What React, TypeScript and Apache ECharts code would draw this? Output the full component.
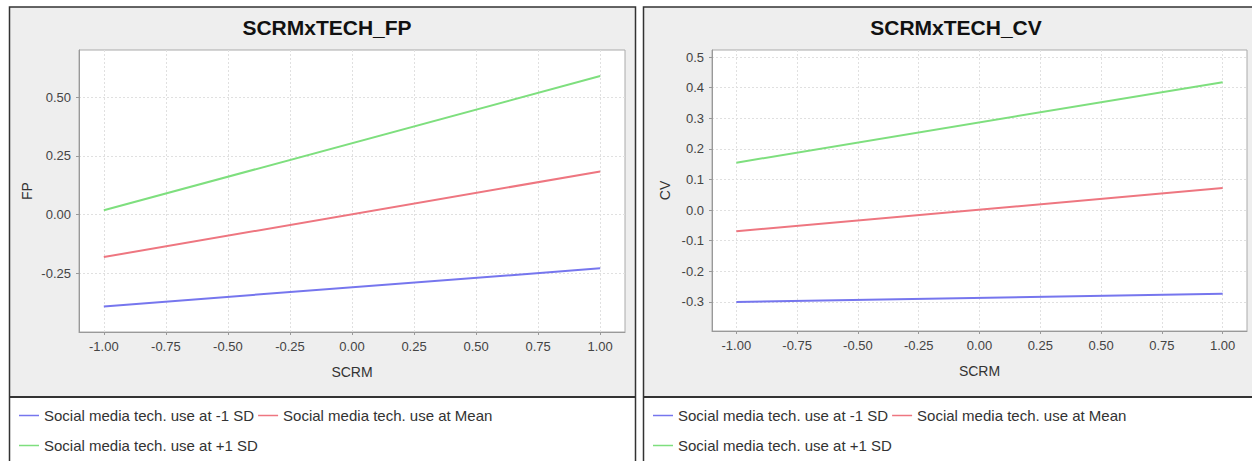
import React, { useEffect, useRef } from "react";
import * as echarts from "echarts";

const xValues = [-1, 1];
const seriesNames = [
  "Social media tech. use at -1 SD",
  "Social media tech. use at Mean",
  "Social media tech. use at +1 SD",
];
const fpLow = [-0.391, -0.229];
const fpMean = [-0.181, 0.183];
const fpHigh = [0.018, 0.589];
const cvLow = [-0.3, -0.273];
const cvMean = [-0.069, 0.072];
const cvHigh = [0.155, 0.418];
const xTicks = [-1, -0.75, -0.5, -0.25, 0, 0.25, 0.5, 0.75, 1];
const fpTicks = [-0.25, 0, 0.25, 0.5];
const cvTicks = [-0.3, -0.2, -0.1, 0, 0.1, 0.2, 0.3, 0.4, 0.5];
const titles = ["SCRMxTECH_FP", "SCRMxTECH_CV"];
const yNames = ["FP", "CV"];
const xName = "SCRM";

const FONT = "'Liberation Sans', Arial, sans-serif";
const colors = ["#7676ee", "#ee7680", "#7edf7e"];

function xAxisFor(gridIndex: number) {
  return {
    type: "value" as const,
    gridIndex,
    min: -1.1,
    max: 1.1,
    name: xName,
    nameLocation: "middle" as const,
    nameGap: 33,
    nameTextStyle: { fontFamily: FONT, fontSize: 14, color: "#333" },
    axisLine: { show: true, onZero: false, lineStyle: { color: "#999", width: 1 } },
    axisTick: { show: true, length: 3, customValues: xTicks, lineStyle: { color: "#999" } },
    axisLabel: {
      customValues: xTicks,
      margin: 8,
      fontFamily: FONT,
      fontSize: 13,
      color: "#444",
      formatter: (v: number) => v.toFixed(2),
    },
    splitLine: { show: true, lineStyle: { color: "#e0e0e0", type: [2, 2] as any, width: 1 } },
  };
}

function yAxisFor(gridIndex: number, min: number, max: number, ticks: number[], name: string, gap: number, digits: number) {
  return {
    type: "value" as const,
    gridIndex,
    min,
    max,
    name,
    nameLocation: "middle" as const,
    nameGap: gap,
    nameTextStyle: { fontFamily: FONT, fontSize: 14, color: "#333" },
    axisLine: { show: true, onZero: false, lineStyle: { color: "#999", width: 1 } },
    axisTick: { show: true, length: 3, customValues: ticks, lineStyle: { color: "#999" } },
    axisLabel: {
      customValues: ticks,
      margin: 8,
      fontFamily: FONT,
      fontSize: 13,
      color: "#444",
      formatter: (v: number) => v.toFixed(digits),
    },
    splitLine: { show: true, lineStyle: { color: "#e0e0e0", type: [2, 2] as any, width: 1 } },
  };
}

function lineSeries(name: string, idx: number, vals: number[], color: string) {
  return {
    type: "line" as const,
    name,
    xAxisIndex: idx,
    yAxisIndex: idx,
    data: xValues.map((x, i) => [x, vals[i]]),
    showSymbol: false,
    symbol: "none",
    lineStyle: { color, width: 2 },
    itemStyle: { color },
  };
}

function legendFor(left: number, top: number, names: string[]) {
  return {
    left,
    top,
    orient: "horizontal" as const,
    data: names,
    icon: "rect",
    itemWidth: 20,
    itemHeight: 1.5,
    itemGap: 4,
    textStyle: { fontFamily: FONT, fontSize: 15, color: "#333" },
    selectedMode: false,
  };
}

export default function App() {
  const ref = useRef<HTMLDivElement>(null);
  useEffect(() => {
    if (!ref.current) return;
    const chart = echarts.init(ref.current, undefined, { renderer: "svg" });
    const panels = [
      { x: 9, w: 626 },
      { x: 643, w: 615 },
    ];
    const graphic: any[] = [];
    panels.forEach((p) => {
      graphic.push({
        type: "rect",
        z: -10,
        silent: true,
        shape: { x: p.x, y: 7, width: p.w, height: 390 },
        style: { fill: "#eeeeee" },
      });
      graphic.push({
        type: "rect",
        z: 50,
        silent: true,
        shape: { x: p.x + 0.5, y: 7, width: p.w, height: 470 },
        style: { fill: "none", stroke: "#333", lineWidth: 1.5 },
      });
      graphic.push({
        type: "line",
        z: 50,
        silent: true,
        shape: { x1: p.x, y1: 397, x2: p.x + p.w, y2: 397 },
        style: { stroke: "#333", lineWidth: 2 },
      });
    });

    const option: any = {
      animation: false,
      backgroundColor: "#ffffff",
      title: [
        {
          text: titles[0],
          left: 322,
          top: 12,
          textAlign: "center",
          textStyle: { fontFamily: FONT, fontSize: 21, fontWeight: "bold", color: "#111" },
        },
        {
          text: titles[1],
          left: 951,
          top: 12,
          textAlign: "center",
          textStyle: { fontFamily: FONT, fontSize: 21, fontWeight: "bold", color: "#111" },
        },
      ],
      legend: [
        legendFor(14, 403, [seriesNames[0], seriesNames[1]]),
        legendFor(14, 433, [seriesNames[2]]),
        legendFor(648, 403, [seriesNames[0], seriesNames[1]]),
        legendFor(648, 433, [seriesNames[2]]),
      ],
      grid: [
        {
          left: 79,
          top: 50,
          width: 546,
          height: 282,
          show: true,
          backgroundColor: "#ffffff",
          borderColor: "#aaa",
          borderWidth: 1,
        },
        {
          left: 712,
          top: 50,
          width: 535,
          height: 281,
          show: true,
          backgroundColor: "#ffffff",
          borderColor: "#aaa",
          borderWidth: 1,
        },
      ],
      xAxis: [xAxisFor(0), xAxisFor(1)],
      yAxis: [
        yAxisFor(0, -0.5, 0.7, fpTicks, yNames[0], 45, 2),
        yAxisFor(1, -0.395, 0.523, cvTicks, yNames[1], 40, 1),
      ],
      graphic,
      series: [
        lineSeries(seriesNames[0], 0, fpLow, colors[0]),
        lineSeries(seriesNames[1], 0, fpMean, colors[1]),
        lineSeries(seriesNames[2], 0, fpHigh, colors[2]),
        lineSeries(seriesNames[0], 1, cvLow, colors[0]),
        lineSeries(seriesNames[1], 1, cvMean, colors[1]),
        lineSeries(seriesNames[2], 1, cvHigh, colors[2]),
      ],
    };
    chart.setOption(option);
    return () => chart.dispose();
  }, []);
  return (
    <div
      ref={ref}
      style={{ position: "fixed", left: 0, top: 0, width: 1252, height: 461 }}
    />
  );
}
